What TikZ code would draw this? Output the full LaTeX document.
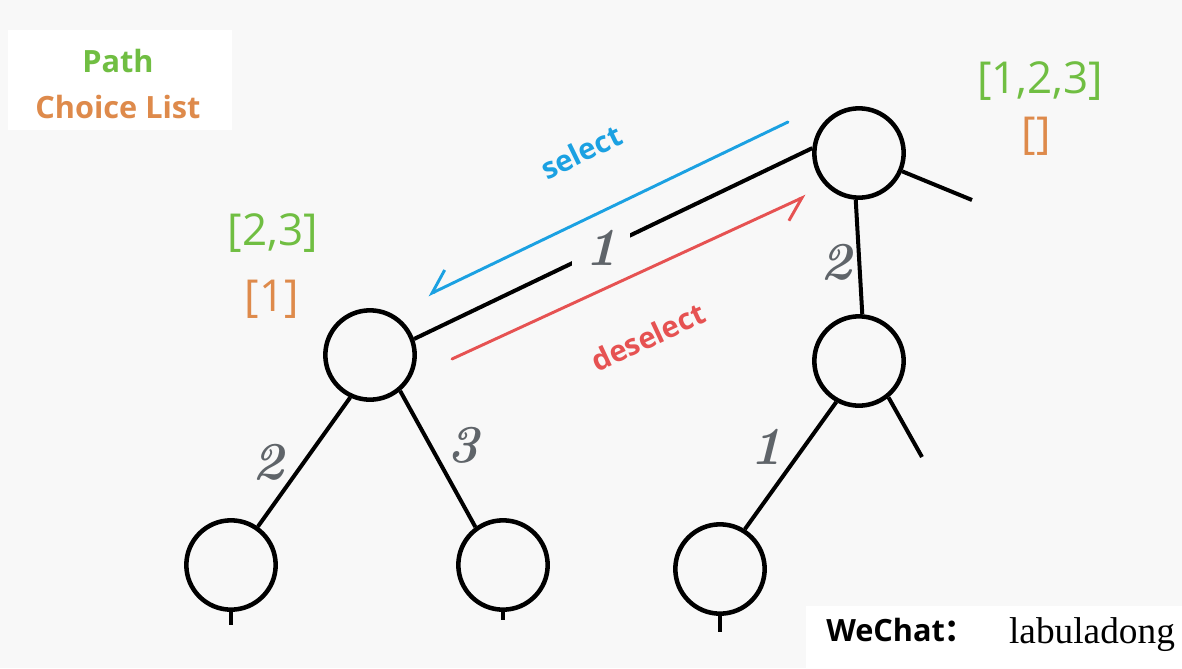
\documentclass[tikz,border=0pt]{standalone}
\usepackage{fontspec}
\setsansfont{Open Sans}
\newfontfamily\wmfont{Liberation Serif}
\newfontfamily\cjk{Noto Sans CJK SC}
\usetikzlibrary{arrows.meta}
\definecolor{bggrey}{RGB}{248,248,248}
\definecolor{pathgreen}{RGB}{112,190,66}
\definecolor{listorange}{RGB}{222,138,75}
\definecolor{selblue}{RGB}{27,161,226}
\definecolor{desred}{RGB}{230,82,82}
\definecolor{numgrey}{RGB}{95,100,105}

\begin{document}
\begin{tikzpicture}[x=0.75pt,y=0.75pt,yscale=-1,xscale=1,
	treenode/.style={circle,draw,line width=3.4pt,minimum size=67pt,inner sep=0pt},
	branch/.style={line width=3pt},
	edgenum/.style={text=numgrey,inner sep=0pt,font=\fontsize{40}{40}\selectfont\bfseries\itshape},
	bracketxt/.style={font=\sffamily\fontsize{33}{33}\selectfont},
	keytxt/.style={font=\sffamily\bfseries\fontsize{23}{23}\selectfont},
	movetxt/.style={font=\sffamily\bfseries\fontsize{22}{22}\selectfont},
	movearrow/.style={line width=2.2pt,line cap=round,-{Straight Barb[harpoon,swap,length=16pt,width=23pt,line width=2.2pt]}}]
	\useasboundingbox (0,0) rectangle (1182,668);
	\fill[bggrey] (0,0) rectangle (1182,668);
	\fill[white] (8,30) rectangle (232,130);
	\fill[white] (806,606) rectangle (1182,668);

	% legend
	\node[keytxt,text=pathgreen] (pathkey) at (118,61) {Path};
	\node[keytxt,text=listorange] (choicekey) at (118,107) {Choice List};

	% tree
	\node[treenode] (root) at (859,153) {};
	\node[treenode] (left) at (370,355) {};
	\node[treenode] (mid) at (859,361) {};
	\node[treenode] (leftleft) at (231,565) {};
	\node[treenode] (leftright) at (503,565) {};
	\node[treenode] (midleft) at (720,569) {};

	\coordinate (rootout) at (972,200);
	\coordinate (midout) at (922,457);
	\coordinate (llout) at (231,625);
	\coordinate (lrout) at (503,620);
	\coordinate (mlout) at (720,632);

	\draw[branch] (left.20) -- (root.174);
	\draw[branch] (root.266) -- (mid.86);
	\draw[branch] (root.-23) -- (rootout);
	\draw[branch] (mid.-51) -- (midout);
	\draw[branch] (mid.241) -- (midleft.58);
	\draw[branch] (left.245) -- (leftleft.55);
	\draw[branch] (left.310) -- (leftright.126);
	\draw[branch] (leftleft.south) -- (llout);
	\draw[branch] (leftright.south) -- (lrout);
	\draw[branch] (midleft.south) -- (mlout);

	% choices on the branches
	\node[edgenum,fill=bggrey,minimum width=43pt,minimum height=40pt] (num1) at (601,248) {1};
	\node[edgenum] (num2) at (836,262) {2};
	\node[edgenum] (num3) at (268,462) {2};
	\node[edgenum] (num4) at (463,445) {3};
	\node[edgenum] (num5) at (766,447) {1};

	% path / choice list
	\node[bracketxt,text=pathgreen] (rootpath) at (1040,81) {[1,2,3]};
	\node[bracketxt,text=listorange] (rootlist) at (1036,136) {[]};
	\node[bracketxt,text=pathgreen] (leftpath) at (273,233) {[2,3]};
	\node[bracketxt,text=listorange] (leftlist) at (272,299) {[1]};

	% select / deselect
	\coordinate (selstart) at (788,122);
	\coordinate (selend) at (428,295);
	\coordinate (desstart) at (452,359);
	\coordinate (desend) at (806,196);
	\draw[movearrow,selblue] (selstart) -- (selend);
	\draw[movearrow,desred] (desstart) -- (desend);
	\node[movetxt,text=selblue,rotate=26] (seltxt) at (581,152) {select};
	\node[movetxt,text=desred,rotate=25] (destxt) at (648,337) {deselect};

	% footer
	\node[anchor=base west,inner sep=0pt,font=\sffamily\bfseries\fontsize{23}{23}\selectfont] (wechat) at (826,641) {WeChat{\cjk ：}};
	\node[anchor=base,inner sep=0pt,font=\wmfont\fontsize{28}{28}\selectfont] (author) at (1092,643) {labuladong};
\end{tikzpicture}
\end{document}
